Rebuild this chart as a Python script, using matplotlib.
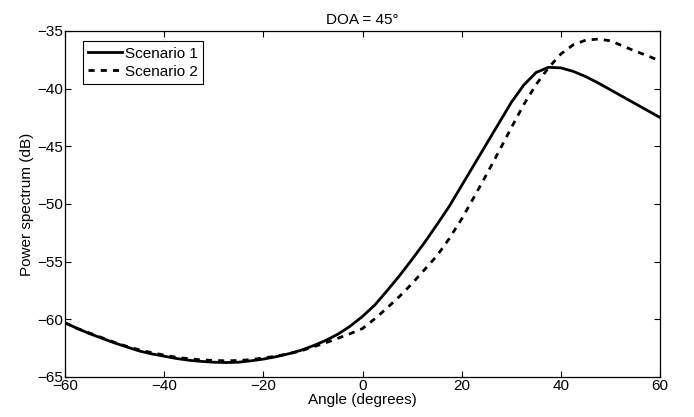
from matplotlib import pyplot as plt

# angle grid (degrees)
angles = [-60, -57.5, -55, -52.5, -50, -47.5, -45, -42.5, -40, -37.5, -35, -32.5,
          -30, -27.5, -25, -22.5, -20, -17.5, -15, -12.5, -10, -7.5, -5, -2.5,
          0, 2.5, 5, 7.5, 10, 12.5, 15, 17.5, 20, 22.5, 25, 27.5, 30, 32.5,
          35, 37.5, 40, 42.5, 45, 47.5, 50, 52.5, 55, 57.5, 60]

# power spectrum (dB)
scenario1 = [-60.3, -60.8, -61.25, -61.65, -62.05, -62.4, -62.75, -63.0, -63.2, -63.4, -63.55, -63.65,
             -63.72, -63.75, -63.72, -63.6, -63.45, -63.25, -63.0, -62.7, -62.3, -61.85, -61.3, -60.6,
             -59.75, -58.75, -57.5, -56.2, -54.8, -53.35, -51.8, -50.2, -48.4, -46.6, -44.8, -43.0, -41.2, -39.7,
             -38.6, -38.15, -38.2, -38.5, -38.95, -39.5, -40.1, -40.7, -41.3, -41.9, -42.5]
scenario2 = [-60.3, -60.8, -61.2, -61.6, -62.0, -62.35, -62.65, -62.9, -63.1, -63.3, -63.42, -63.52,
             -63.57, -63.6, -63.57, -63.5, -63.35, -63.2, -63.0, -62.75, -62.4, -62.05, -61.65, -61.25,
             -60.8, -59.95, -59.0, -58.0, -56.9, -55.7, -54.5, -53.0, -51.3, -49.4, -47.45, -45.45, -43.4, -41.4,
             -39.65, -38.2, -37.0, -36.2, -35.8, -35.7, -35.85, -36.3, -36.75, -37.15, -37.6]

plt.rcParams['font.family'] = ['Liberation Sans', 'DejaVu Sans']
plt.rcParams['font.size'] = 11
plt.rcParams['xtick.direction'] = 'in'
plt.rcParams['ytick.direction'] = 'in'

fig = plt.figure(figsize=(6.94, 4.17), dpi=100)
ax = fig.add_axes([0.0937, 0.096, 0.8573, 0.8297])

ax.plot(angles, scenario1, color='black', linewidth=2, linestyle='-', label='Scenario 1')
ax.plot(angles, scenario2, color='black', linewidth=2, linestyle=(0, (2.2, 2.2)), label='Scenario 2')

ax.set_xlim(-60, 60)
ax.set_ylim(-65, -35)
ax.set_xticks(range(-60, 61, 20))
ax.set_yticks(range(-65, -34, 5))
ax.tick_params(top=True, right=True, length=4, width=0.8, pad=1.5)
for s in ax.spines.values():
    s.set_linewidth(0.9)

ax.set_title('DOA = 45°', fontsize=11, pad=5)
ax.set_xlabel('Angle (degrees)', labelpad=0)
ax.set_ylabel('Power spectrum (dB)', labelpad=2)

leg = ax.legend(loc='upper left', bbox_to_anchor=(0.03, 0.97), fancybox=False,
                edgecolor='black', framealpha=1, handlelength=2.2, borderpad=0.35,
                labelspacing=0.25, handletextpad=0.2, borderaxespad=0)
leg.get_frame().set_linewidth(0.8)

plt.savefig('out.png', dpi=100)
